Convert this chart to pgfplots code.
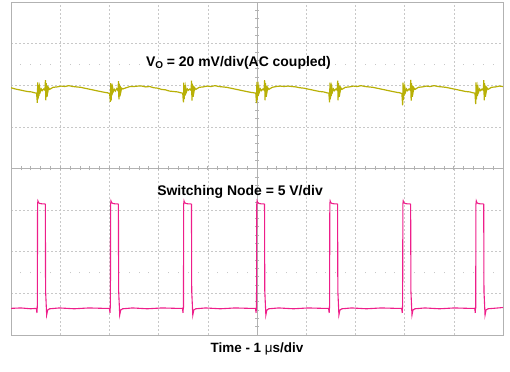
\documentclass[border=0pt]{standalone}
\usepackage{pgfplots}
\pgfplotsset{compat=1.18}
\usepackage{fontspec}
\setmainfont{Liberation Sans}
\definecolor{ych}{RGB}{184,176,6}
\definecolor{pch}{RGB}{238,30,138}
\definecolor{frm}{RGB}{178,178,178}
\definecolor{grd}{RGB}{200,200,200}
\begin{document}
\begin{tikzpicture}
\useasboundingbox (-11bp,-37bp) rectangle (499bp,335bp);
% graticule
\begin{scope}[x=49.2bp,y=41.625bp]
\foreach \i in {1,2,3,4,6,7,8,9} \draw[grd,line width=0.6bp,dash pattern=on 2bp off 2bp] (\i,0) -- (\i,8);
\foreach \j in {1,2,3,5,6,7} \draw[grd,line width=0.6bp,dash pattern=on 2bp off 2bp] (0,\j) -- (10,\j);
\draw[frm,line width=0.9bp] (5,0) -- (5,8);
\draw[frm,line width=0.9bp] (0,4) -- (10,4);
\foreach \k in {1,...,49} \draw[frm,line width=0.6bp] ({0.2*\k},4) ++(0,-2bp) -- ++(0,4bp);
\foreach \k in {1,...,39} \draw[frm,line width=0.6bp] (5,{0.2*\k}) ++(-2bp,0) -- ++(4bp,0);
\foreach \k in {1,2,3,4,6,7,8,9,11,12,13,14,16,17,18,19,21,22,23,24,26,27,28,29,31,32,33,34,36,37,38,39,41,42,43,44,46,47,48,49} {
  \draw[grd,line width=0.8bp] ({0.2*\k},1.5) ++(0,-0.7bp) -- ++(0,1.4bp);
  \draw[grd,line width=0.8bp] ({0.2*\k},6.5) ++(0,-0.7bp) -- ++(0,1.4bp);
}
\draw[frm,line width=0.9bp] (0,0) rectangle (10,8);
\end{scope}
\begin{axis}[at={(0,0)}, anchor=south west, scale only axis, width=492bp, height=333bp,
  xmin=0, xmax=10, ymin=-4, ymax=4, hide axis, clip mode=individual]
\addplot[ych, line width=1.2bp] coordinates {
(0,1.94)(0.09,1.91)(0.17,1.89)(0.25,1.87)(0.33,1.85)
(0.415,1.84)(0.475,1.82)(0.52,1.81)(0.535,1.58)(0.543,2.07)(0.551,1.66)(0.559,2.01)(0.569,1.74)(0.581,1.95)(0.595,1.84)(0.615,1.91)(0.635,1.87)(0.665,1.91)(0.69,1.88)(0.70,2.12)(0.708,1.64)(0.716,2.05)(0.725,1.72)(0.735,1.99)(0.747,1.83)(0.763,1.94)(0.785,1.90)(0.855,1.95)(0.935,1.96)(1.015,1.98)(1.095,1.97)(1.175,1.99)(1.255,1.97)(1.335,1.96)(1.415,1.95)(1.495,1.93)(1.575,1.91)(1.655,1.89)(1.735,1.87)(1.815,1.85)
(1.900,1.83)(1.960,1.82)(2.005,1.80)(2.020,1.60)(2.028,2.05)(2.036,1.64)(2.044,2.02)(2.054,1.76)(2.066,1.94)(2.080,1.85)(2.100,1.90)(2.120,1.86)(2.150,1.92)(2.175,1.87)(2.185,2.10)(2.193,1.66)(2.201,2.04)(2.210,1.73)(2.220,1.98)(2.232,1.84)(2.248,1.93)(2.270,1.91)(2.340,1.94)(2.420,1.97)(2.500,1.97)(2.580,1.98)(2.660,1.98)(2.740,1.96)(2.820,1.97)(2.900,1.94)(2.980,1.93)(3.060,1.90)(3.140,1.89)(3.220,1.86)(3.300,1.85)
(3.385,1.84)(3.445,1.82)(3.490,1.81)(3.505,1.59)(3.513,2.06)(3.521,1.67)(3.529,2.00)(3.539,1.75)(3.551,1.95)(3.565,1.84)(3.585,1.91)(3.605,1.88)(3.635,1.91)(3.660,1.88)(3.670,2.11)(3.678,1.63)(3.686,2.04)(3.695,1.72)(3.705,1.99)(3.717,1.83)(3.733,1.94)(3.755,1.90)(3.825,1.95)(3.905,1.96)(3.985,1.98)(4.065,1.97)(4.145,1.99)(4.225,1.97)(4.305,1.96)(4.385,1.95)(4.465,1.93)(4.545,1.91)(4.625,1.89)(4.705,1.87)(4.785,1.85)
(4.870,1.83)(4.930,1.82)(4.975,1.81)(4.990,1.57)(4.998,2.08)(5.006,1.65)(5.014,2.01)(5.024,1.74)(5.036,1.96)(5.050,1.84)(5.070,1.91)(5.090,1.87)(5.120,1.91)(5.145,1.88)(5.155,2.12)(5.163,1.64)(5.171,2.05)(5.180,1.72)(5.190,1.99)(5.202,1.83)(5.218,1.94)(5.240,1.90)(5.310,1.95)(5.390,1.97)(5.470,1.98)(5.550,1.97)(5.630,1.98)(5.710,1.97)(5.790,1.96)(5.870,1.94)(5.950,1.93)(6.030,1.91)(6.110,1.89)(6.190,1.87)(6.270,1.85)
(6.355,1.84)(6.415,1.82)(6.460,1.81)(6.475,1.59)(6.483,2.06)(6.491,1.66)(6.499,2.02)(6.509,1.74)(6.521,1.95)(6.535,1.84)(6.555,1.91)(6.575,1.87)(6.605,1.91)(6.630,1.88)(6.640,2.11)(6.648,1.64)(6.656,2.05)(6.665,1.72)(6.675,1.99)(6.687,1.83)(6.703,1.94)(6.725,1.90)(6.795,1.95)(6.875,1.96)(6.955,1.98)(7.035,1.97)(7.115,1.99)(7.195,1.97)(7.275,1.96)(7.355,1.95)(7.435,1.93)(7.515,1.91)(7.595,1.89)(7.675,1.87)(7.755,1.85)
(7.840,1.83)(7.900,1.82)(7.945,1.80)(7.960,1.52)(7.968,2.06)(7.976,1.65)(7.984,2.01)(7.994,1.75)(8.006,1.95)(8.020,1.84)(8.040,1.91)(8.060,1.87)(8.090,1.91)(8.115,1.88)(8.125,2.13)(8.133,1.63)(8.141,2.05)(8.150,1.72)(8.160,1.99)(8.172,1.83)(8.188,1.94)(8.210,1.90)(8.280,1.95)(8.360,1.96)(8.440,1.98)(8.520,1.97)(8.600,1.99)(8.680,1.97)(8.760,1.96)(8.840,1.95)(8.920,1.93)(9.000,1.91)(9.080,1.89)(9.160,1.87)(9.240,1.85)
(9.325,1.84)(9.385,1.82)(9.430,1.81)(9.445,1.55)(9.453,2.07)(9.461,1.66)(9.469,2.01)(9.479,1.74)(9.491,1.95)(9.505,1.84)(9.525,1.91)(9.545,1.87)(9.575,1.91)(9.600,1.88)(9.610,2.12)(9.618,1.64)(9.626,2.05)(9.635,1.72)(9.645,1.99)(9.657,1.83)(9.673,1.94)(9.695,1.90)(9.765,1.95)(9.845,1.96)(9.925,1.98)(10.000,1.97)
};
\addplot[pch, line width=1.1bp] coordinates {
(0,-3.36)(0.2,-3.35)(0.4,-3.37)
(0.515,-3.36)(0.527,-3.47)(0.533,-3.30)(0.535,-3.36)(0.540,-0.86)(0.547,-0.78)(0.560,-0.82)(0.585,-0.84)(0.635,-0.85)(0.685,-0.85)(0.698,-0.86)(0.703,-2.94)(0.725,-3.52)(0.745,-3.40)(0.785,-3.37)(0.985,-3.35)(1.285,-3.37)(1.585,-3.35)(1.885,-3.36)
(2.000,-3.36)(2.012,-3.47)(2.018,-3.30)(2.020,-3.36)(2.025,-0.86)(2.032,-0.78)(2.045,-0.82)(2.070,-0.84)(2.120,-0.85)(2.170,-0.85)(2.183,-0.86)(2.188,-2.94)(2.210,-3.52)(2.230,-3.40)(2.270,-3.37)(2.470,-3.35)(2.770,-3.37)(3.070,-3.35)(3.370,-3.36)
(3.485,-3.36)(3.497,-3.47)(3.503,-3.30)(3.505,-3.36)(3.510,-0.86)(3.517,-0.78)(3.530,-0.82)(3.555,-0.84)(3.605,-0.85)(3.655,-0.85)(3.668,-0.86)(3.673,-2.94)(3.695,-3.52)(3.715,-3.40)(3.755,-3.37)(3.955,-3.35)(4.255,-3.37)(4.555,-3.35)(4.855,-3.36)
(4.970,-3.36)(4.982,-3.47)(4.988,-3.30)(4.990,-3.36)(4.995,-0.86)(5.002,-0.78)(5.015,-0.82)(5.040,-0.84)(5.090,-0.85)(5.140,-0.85)(5.153,-0.86)(5.158,-2.94)(5.180,-3.52)(5.200,-3.40)(5.240,-3.37)(5.440,-3.35)(5.740,-3.37)(6.040,-3.35)(6.340,-3.36)
(6.455,-3.36)(6.467,-3.47)(6.473,-3.30)(6.475,-3.36)(6.480,-0.86)(6.487,-0.78)(6.500,-0.82)(6.525,-0.84)(6.575,-0.85)(6.625,-0.85)(6.638,-0.86)(6.643,-2.94)(6.665,-3.52)(6.685,-3.40)(6.725,-3.37)(6.925,-3.35)(7.225,-3.37)(7.525,-3.35)(7.825,-3.36)
(7.940,-3.36)(7.952,-3.47)(7.958,-3.30)(7.960,-3.36)(7.965,-0.86)(7.972,-0.78)(7.985,-0.82)(8.010,-0.84)(8.060,-0.85)(8.110,-0.85)(8.123,-0.86)(8.128,-2.94)(8.150,-3.52)(8.170,-3.40)(8.210,-3.37)(8.410,-3.35)(8.710,-3.37)(9.010,-3.35)(9.310,-3.36)
(9.425,-3.36)(9.437,-3.47)(9.443,-3.30)(9.445,-3.36)(9.450,-0.86)(9.457,-0.78)(9.470,-0.82)(9.495,-0.84)(9.545,-0.85)(9.595,-0.85)(9.608,-0.86)(9.613,-2.94)(9.635,-3.52)(9.655,-3.40)(9.695,-3.37)(9.900,-3.35)(10.0,-3.34)
};
\end{axis}
\node[anchor=base west, inner sep=0pt, font=\bfseries\fontsize{14}{16}\selectfont] at (134.8bp,268.6bp) {V{\fontsize{10}{11}\selectfont\raisebox{-0.35ex}{O}} = 20 mV/div(AC coupled)};
\node[anchor=base west, inner sep=0pt, font=\bfseries\fontsize{14}{16}\selectfont] at (146.1bp,139.9bp) {Switching Node = 5 V/div};
\node[anchor=base, inner sep=0pt, font=\bfseries\fontsize{13.5}{15}\selectfont] at (246bp,-17bp) {Time - 1 {\mdseries μ}s/div};
\end{tikzpicture}
\end{document}
